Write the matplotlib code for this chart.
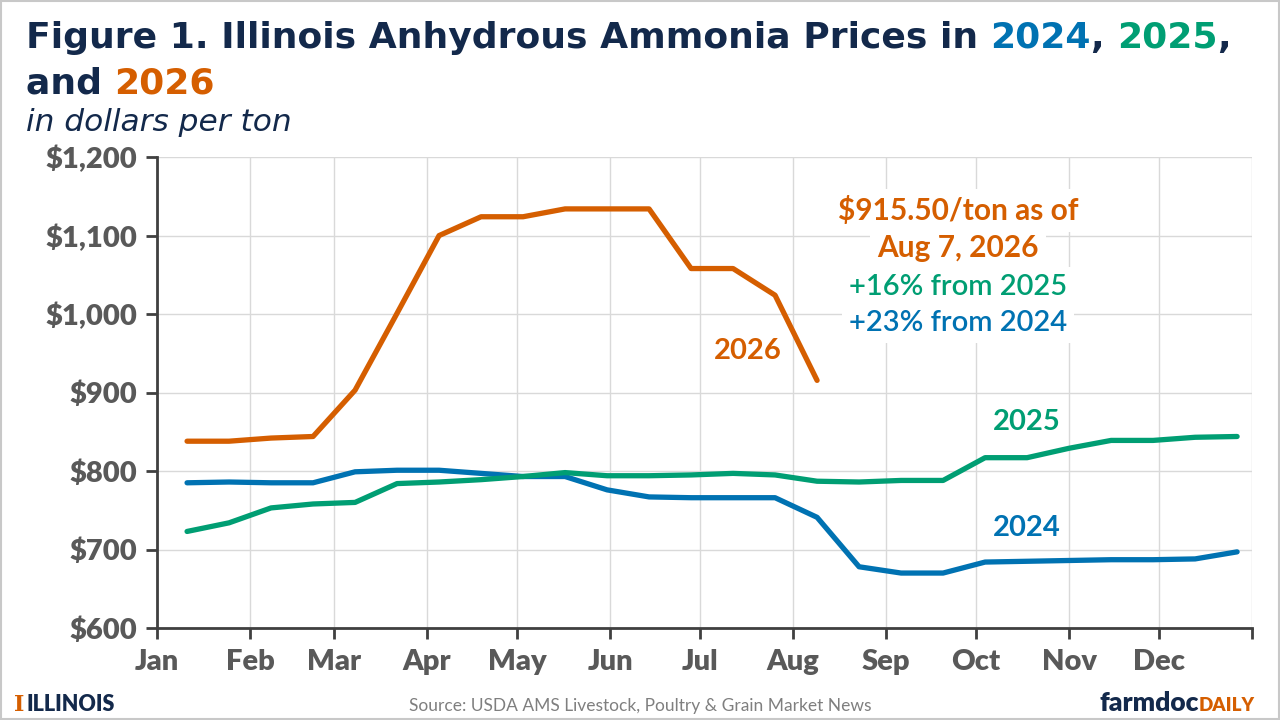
import matplotlib
matplotlib.use("Agg")
import matplotlib.pyplot as plt
import matplotlib.patches as patches

# biweekly observation days (day of year, Jan 1 = 0)
days_full = [10 + 14 * k for k in range(26)]
days_2026 = days_full[:16]

price_2024 = [785, 786, 785, 785, 799, 801, 801, 797, 793, 793, 776, 767, 766,
              766, 766, 741, 678, 670, 670, 684, 685, 686, 687, 687, 688, 697]
price_2025 = [723, 734, 753, 758, 760, 784, 786, 789, 793, 798, 794, 794, 795,
              797, 795, 787, 786, 788, 788, 817, 817, 829, 839, 839, 843, 844]
price_2026 = [838, 838, 842, 844, 903, 1001, 1100, 1124, 1124, 1134, 1134, 1134,
              1058, 1058, 1024, 915.5]

month_starts = [0, 31, 59, 90, 120, 151, 181, 212, 243, 273, 304, 334]
month_labels = ["Jan", "Feb", "Mar", "Apr", "May", "Jun",
                "Jul", "Aug", "Sep", "Oct", "Nov", "Dec"]
y_ticks = [600, 700, 800, 900, 1000, 1100, 1200]

BLUE = "#0072B2"
GREEN = "#009E73"
ORANGE = "#D55E00"
NAVY = "#13294B"
GRAY = "#595959"

fig = plt.figure(figsize=(12.8, 7.2), dpi=100)
ax = fig.add_axes([0.1227, 0.1278, 0.8555, 0.654])

line_kw = dict(lw=3.8, solid_capstyle="round", solid_joinstyle="round", zorder=3)
ax.plot(days_full, price_2024, color=BLUE, **line_kw)
ax.plot(days_full, price_2025, color=GREEN, **line_kw)
ax.plot(days_2026, price_2026, color=ORANGE, **line_kw)

ax.set_xlim(0, 365)
ax.set_ylim(600, 1200)
ax.set_xticks(month_starts + [365])
ax.set_xticklabels(month_labels + [""])
ax.set_yticks(y_ticks)
ax.set_yticklabels([f"${v:,}" for v in y_ticks])
ax.grid(True, color="#d9d9d9", lw=1)
ax.set_axisbelow(True)
for s in ["top", "right"]:
    ax.spines[s].set_visible(False)
for s in ["left", "bottom"]:
    ax.spines[s].set_color("#404040")
    ax.spines[s].set_linewidth(2)
ax.tick_params(axis="both", colors="#404040", width=2, length=8, direction="out")
ax.tick_params(axis="x", labelsize=21, labelcolor=GRAY, pad=7)
ax.tick_params(axis="y", labelsize=21, labelcolor=GRAY, pad=6)
for lab in ax.get_xticklabels() + ax.get_yticklabels():
    lab.set_fontfamily("Lato")
    lab.set_fontweight("heavy")

# series labels
lab_kw = dict(fontsize=21, fontweight="bold", family="Lato", ha="center", va="center")
ax.text(197, 953, "2026", color=ORANGE, **lab_kw)
ax.text(290, 862, "2025", color=GREEN, **lab_kw)
ax.text(290, 727, "2024", color=BLUE, **lab_kw)

# annotation box
ann_x = 267
box = dict(facecolor="white", edgecolor="none", pad=5)
ax.text(ann_x, 1132, "$915.50/ton as of", color=ORANGE, fontsize=21.5, fontweight="bold",
        family="Lato", ha="center", va="center", bbox=box, zorder=4)
ax.text(ann_x, 1084, "Aug 7, 2026", color=ORANGE, fontsize=21.5, fontweight="bold",
        family="Lato", ha="center", va="center", bbox=box, zorder=4)
ax.text(ann_x, 1035, "+16% from 2025", color=GREEN, fontsize=21, fontweight="semibold",
        family="Lato", ha="center", va="center", bbox=box, zorder=4)
ax.text(ann_x, 989, "+23% from 2024", color=BLUE, fontsize=21, fontweight="semibold",
        family="Lato", ha="center", va="center", bbox=box, zorder=4)

renderer = fig.canvas.get_renderer()


def colored_line(x, y, parts, **kw):
    for part in parts:
        s, c = part[0], part[1]
        extra = part[2] if len(part) > 2 else {}
        t = fig.text(x, y, s, color=c, **{**kw, **extra})
        bb = t.get_window_extent(renderer)
        x += bb.width / fig.bbox.width


title_kw = dict(fontsize=26, fontweight="bold", family="DejaVu Sans", va="baseline")
colored_line(0.020, 1 - 48 / 720, [("Figure 1. Illinois Anhydrous Ammonia Prices in ", NAVY),
                                   ("2024", BLUE), (", ", NAVY), ("2025", GREEN),
                                   (",", NAVY)], **title_kw)
colored_line(0.020, 1 - 93 / 720, [("and ", NAVY), ("2026", ORANGE)], **title_kw)
fig.text(0.020, 1 - 131 / 720, "in dollars per ton", color=NAVY, fontsize=22.5,
         style="italic", family="DejaVu Sans", va="baseline")

# footer
fig.text(0.011, 1 - 711 / 720, "I", color=ORANGE, fontsize=16, fontweight="bold",
         family="DejaVu Serif", va="baseline")
fig.text(0.021, 1 - 711 / 720, "ILLINOIS", color=NAVY, fontsize=15.5, fontweight="heavy",
         family="Lato", va="baseline")
fig.text(0.5, 1 - 711 / 720, "Source: USDA AMS Livestock, Poultry & Grain Market News",
         color="#7f7f7f", fontsize=12.5, family="Lato", ha="center", va="baseline")
colored_line(0.859, 1 - 711 / 720, [("farmdoc", NAVY, dict(fontsize=19)),
                                    ("DAILY", ORANGE, dict(fontsize=13.5))],
             fontweight="heavy", family="Lato", va="baseline")

fig.patches.append(patches.Rectangle((0.001, 0.001), 0.998, 0.998, transform=fig.transFigure,
                                     fill=False, edgecolor="#c8c8c8", lw=1.5))

fig.savefig("out.png", dpi=100)
